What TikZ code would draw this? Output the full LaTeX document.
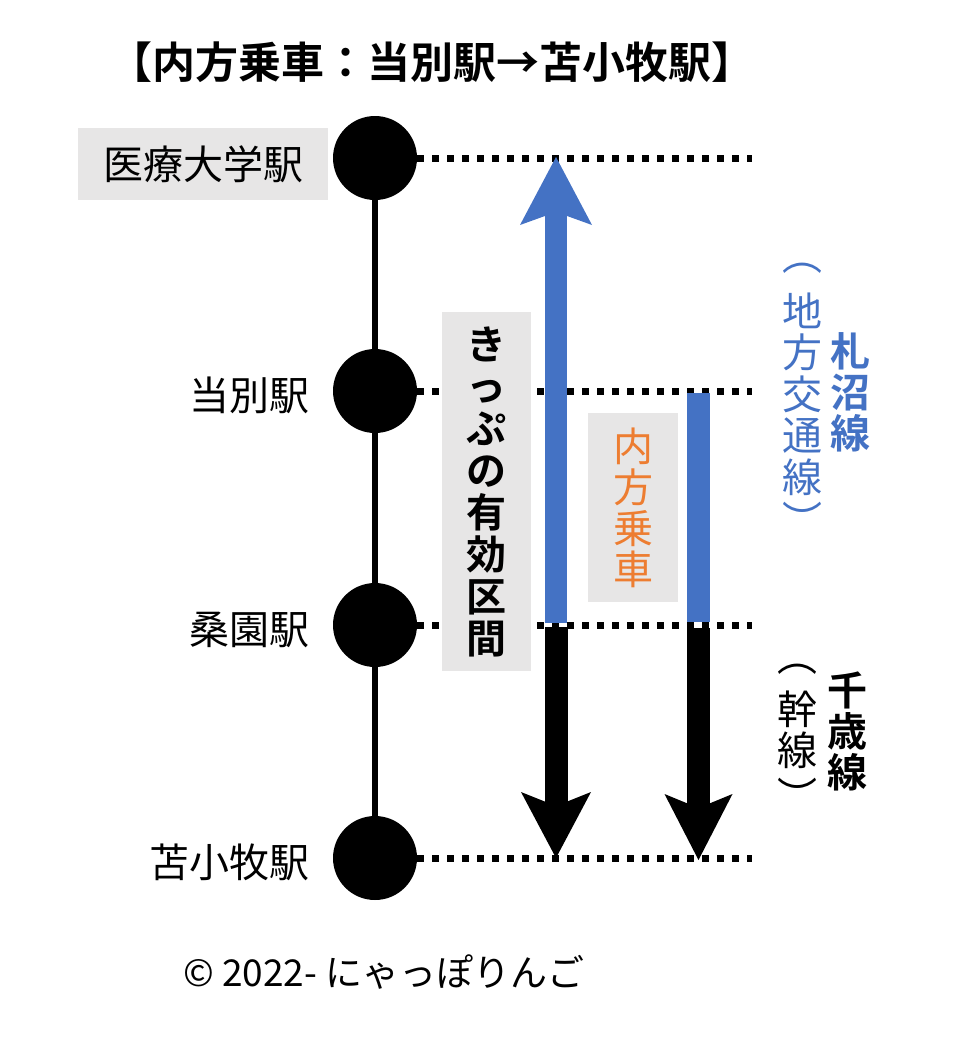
\documentclass[tikz,border=0pt]{standalone}
\usepackage{fontspec}
\setmainfont{Noto Sans CJK JP}[BoldFont={Noto Sans CJK JP Bold}]
\newfontfamily\vertfont{Noto Sans CJK JP}
\newfontfamily\vertbold{Noto Sans CJK JP Bold}
\usetikzlibrary{arrows.meta,positioning}
\definecolor{JRblue}{HTML}{4472C4}
\definecolor{JRorange}{HTML}{ED7D31}
\definecolor{JRgrey}{HTML}{E7E6E6}

\begin{document}
\begin{tikzpicture}[x=1pt,y=-1pt,
    station/.style={circle,fill=black,minimum size=84pt,inner sep=0pt},
    stname/.style={anchor=east,inner sep=0pt,font=\fontsize{40}{42}\selectfont},
    greybox/.style={fill=JRgrey,inner sep=0pt,align=center},
    vlabel/.style={align=center,inner sep=0pt},
    bracket/.style={inner sep=0pt,font=\vertfont\fontsize{40}{40}\selectfont},
    track/.style={line width=6pt},
    border/.style={line width=7pt,dash pattern=on 7pt off 8pt},
    upline/.style={line width=22pt,color=JRblue,-{Stealth[length=68pt,width=72pt,inset=13pt,line width=0pt]}},
    bluebar/.style={line width=23pt,color=JRblue},
    downline/.style={line width=23pt,-{Stealth[length=66pt,width=70pt,inset=14pt,line width=0pt]}}
  ]
  \useasboundingbox (0,0) rectangle (960,1042);
  % title
  \node[font=\bfseries\fontsize{43}{46}\selectfont] (title) at (432,62) {【内方乗車：当別駅→苫小牧駅】};
  % stations
  \node[station] (iryo) at (375,158) {};
  \node[station] (tobetsu) at (375,391) {};
  \node[station] (soen) at (375,625) {};
  \node[station] (tomakomai) at (375,858) {};
  \draw[track] (iryo)--(tobetsu);
  \draw[track] (tobetsu)--(soen);
  \draw[track] (soen)--(tomakomai);
  \node[greybox,minimum width=250pt,minimum height=72pt,font=\fontsize{40}{42}\selectfont] (iryoname) at (203,164) {医療大学駅};
  \node[stname] (tobetsuname) at (310,395) {当別駅};
  \node[stname] (soenname) at (310,630) {桑園駅};
  \node[stname] (tomakomainame) at (310,862) {苫小牧駅};
  % borders
  \coordinate (e1) at (752,158);
  \coordinate (e2) at (752,391);
  \coordinate (e3) at (752,625);
  \coordinate (e4) at (752,858);
  \draw[border] (iryo.east)--(e1);
  \draw[border] (tobetsu.east)--(e2);
  \draw[border] (soen.east)--(e3);
  \draw[border] (tomakomai.east)--(e4);
  % ticket
  \node[greybox,minimum width=89pt,minimum height=359pt,font=\vertbold\fontsize{40}{42}\selectfont] (valid) at (486.5,491.5) {き\\っ\\ぷ\\の\\有\\効\\区\\間};
  \coordinate (a0) at (556,623);
  \coordinate (a1) at (556,157);
  \coordinate (a2) at (556,627);
  \coordinate (a3) at (556,858);
  \draw[upline] (a0)--(a1);
  \draw[downline] (a2)--(a3);
  % inner ride
  \node[greybox,minimum width=90pt,minimum height=189pt,text=JRorange,font=\vertfont\fontsize{40}{41}\selectfont] (inner) at (633,507.5) {内\\方\\乗\\車};
  \coordinate (b0) at (698.5,393);
  \coordinate (b1) at (698.5,622);
  \coordinate (b2) at (698.5,628);
  \coordinate (b3) at (698.5,860);
  \draw[bluebar] (b0)--(b1);
  \draw[downline,-{Stealth[length=66pt,width=68pt,inset=14pt,line width=0pt]}] (b2)--(b3);
  % lines
  \node[vlabel,text=JRblue,font=\vertbold\fontsize{40}{41}\selectfont] (sassho) at (850,392) {札\\沼\\線};
  \node[vlabel,text=JRblue,font=\vertfont\fontsize{40}{41.5}\selectfont] (sasshokind) at (802,394) {地\\方\\交\\通\\線};
  \node[bracket,text=JRblue] (sasshoopen) at (802,268) {︵};
  \node[bracket,text=JRblue] (sasshoclose) at (802,519) {︶};
  \node[vlabel,font=\vertbold\fontsize{40}{41}\selectfont] (chitose) at (847,731) {千\\歳\\線};
  \node[vlabel,font=\vertfont\fontsize{40}{41.5}\selectfont] (chitosekind) at (797,730) {幹\\線};
  \node[bracket] (chitoseopen) at (797,669) {︵};
  \node[bracket] (chitoseclose) at (797,795) {︶};
  % credit
  \node[anchor=west,inner sep=0pt,font=\fontsize{37}{40}\selectfont] (credit) at (183,972) {© 2022- にゃっぽりんご};
\end{tikzpicture}
\end{document}
